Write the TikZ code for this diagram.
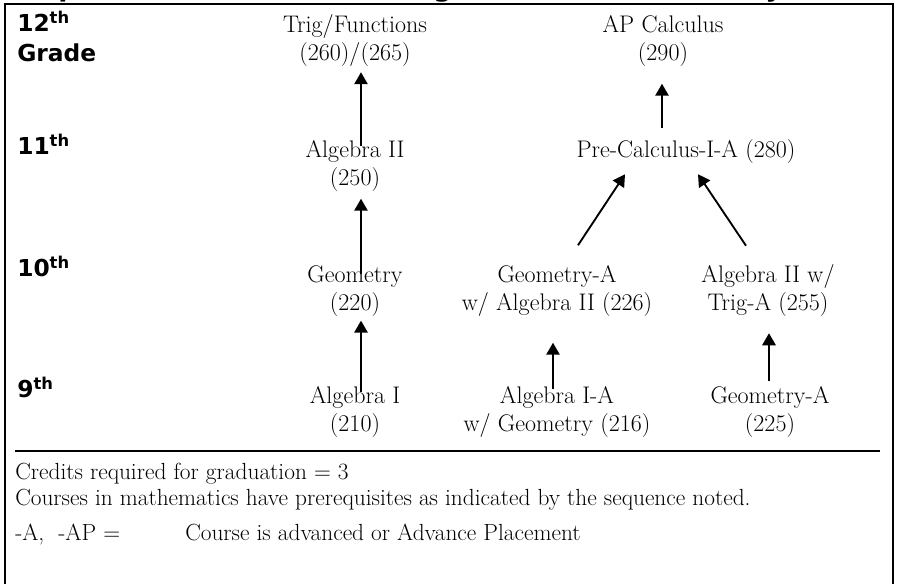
\documentclass[tikz,border=0pt]{standalone}
\usepackage{fontspec}
\newfontfamily\gradefont{DejaVu Sans}
\usetikzlibrary{arrows.meta, positioning, calc}

\begin{document}
\begin{tikzpicture}[>=Triangle, x=0.75pt, y=-0.75pt]
    \tikzset{course/.style={align=center, inner sep=0pt, font=\fontsize{18}{21}\selectfont},
        grade/.style={anchor=base west, inner sep=0pt, font=\gradefont\bfseries\fontsize{17.5}{21}\selectfont},
        title/.style={anchor=base, inner sep=0pt, font=\gradefont\bfseries\fontsize{20}{24}\selectfont},
        note/.style={anchor=base west, inner sep=0pt, font=\fontsize{17.5}{21}\selectfont},
        arr/.style={->, line width=1.4pt, >={Triangle[length=9pt,width=10pt]}}
    }
    \useasboundingbox (0,0) rectangle (897,584);

    \begin{scope}
        \clip (0,0) rectangle (897,3);
        \foreach \c / \x in {p/68, g/443, y/774} {
            \node (title-\c) [title] at (\x,-3) {\c};
        }
    \end{scope}
    \draw [line width=1.5pt] (5,584) -- (5,4) -- (893,4) -- (893,584);
    \draw [line width=0.8pt] (15,451) -- (880,451);

    \foreach \n / \y in {12/32, 11/155, 10/277, 9/398} {
        \node (G\n) [grade] at (17,\y) {\n\textsuperscript{th}};
    }
    \node (G12-Grade) [grade] at (17,62) {Grade};

    \node (Trig) [course] at (355,41) {Trig/Functions\\(260)/(265)};
    \node (APCalc) [course] at (663,41) {AP Calculus\\(290)};
    \node (Alg2) [course] at (355,166) {Algebra II\\(250)};
    \node (PreCalc) [course] at (686,152) {Pre-Calculus-I-A (280)};
    \node (Geom) [course] at (355,291) {Geometry\\(220)};
    \node (GeomA-Alg2) [course] at (557,291) {Geometry-A\\w/ Algebra II (226)};
    \node (Alg2-TrigA) [course] at (768,291) {Algebra II w/\\Trig-A (255)};
    \node (Alg1) [course] at (355,412) {Algebra I\\(210)};
    \node (Alg1A-Geom) [course] at (557,412) {Algebra I-A\\w/ Geometry (216)};
    \node (GeomA) [course] at (770,412) {Geometry-A\\(225)};

    \draw [arr] ([shift={(6,6)}]Alg2.north) -- ([shift={(6,5)}]Trig.south);
    \draw [arr] ([shift={(6,9)}]Geom.north) -- ([shift={(6,7)}]Alg2.south);
    \draw [arr] ([shift={(6,6)}]Alg1.north) -- ([shift={(6,4)}]Geom.south);
    \draw [arr] ([shift={(-24,-12)}]PreCalc.north) -- ([shift={(-1,17)}]APCalc.south);
    \draw [arr] ([shift={(21,-20)}]GeomA-Alg2.north) -- ([shift={(-61,10)}]PreCalc.south);
    \draw [arr] ([shift={(-22,-19)}]Alg2-TrigA.north) -- ([shift={(12,10)}]PreCalc.south);
    \draw [arr] ([shift={(-4,3)}]Alg1A-Geom.north) -- ([shift={(-4,26)}]GeomA-Alg2.south);
    \draw [arr] ([shift={(-1,-5)}]GeomA.north) -- ([shift={(1,16)}]Alg2-TrigA.south);

    \node (Credits) [note] at (15,480) {Credits required for graduation = 3};
    \node (Prereq) [note] at (15,506) {Courses in mathematics have prerequisites as indicated by the sequence noted.};
    \node (Abbr) [note] at (15,541) {-A,\ \ -AP =};
    \node (AbbrDef) [note] at (185,541) {Course is advanced or Advance Placement};
\end{tikzpicture}
\end{document}
